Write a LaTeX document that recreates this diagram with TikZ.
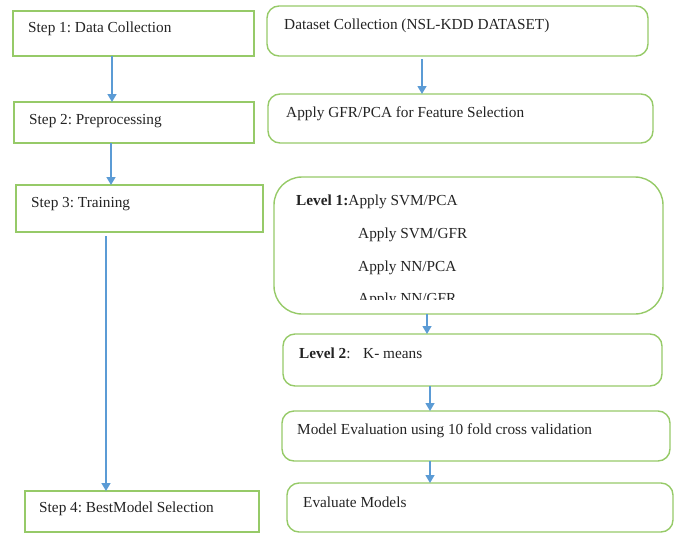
\documentclass[tikz,border=0pt]{standalone}
\usepackage{fontspec}
\setmainfont{Liberation Serif}
\usetikzlibrary{arrows.meta}
\definecolor{boxgreen}{RGB}{150,202,104}
\definecolor{flowblue}{RGB}{91,155,213}
\definecolor{ink}{RGB}{35,35,35}
\frenchspacing
\begin{document}
\begin{tikzpicture}[x=1pt,y=-1pt,
  stepbox/.style={draw=boxgreen, line width=1.4pt, inner sep=0pt, outer sep=0pt},
  roundbox/.style={stepbox, rounded corners=12pt},
  lbl/.style={anchor=base west, inner sep=0pt, text=ink, font=\fontsize{15.3}{18}\selectfont},
  flow/.style={draw=flowblue, line width=1.4pt, -{Triangle[width=9pt,length=8pt]}}]
\useasboundingbox (0,0) rectangle (677,533);

% left column: the four steps
\node[stepbox, minimum width=241pt, minimum height=45pt] (s1) at (133.5,33.5) {};
\node[stepbox, minimum width=240pt, minimum height=41pt] (s2) at (134,122.5) {};
\node[stepbox, minimum width=247pt, minimum height=47pt] (s3) at (139.5,208.5) {};
\node[stepbox, minimum width=234pt, minimum height=41pt] (s4) at (142,511.5) {};

\node[lbl] (t1) at (28,32) {Step 1: Data Collection};
\node[lbl] (t2) at (29,124) {Step 2: Preprocessing};
\node[lbl] (t3) at (31,207) {Step 3: Training};
\node[lbl] (t4) at (39,512) {Step 4: BestModel Selection};

% right column: what each step does
\node[roundbox, minimum width=381pt, minimum height=50pt] (r1) at (457.5,31) {};
\node[roundbox, minimum width=385pt, minimum height=49pt] (r2) at (460.5,118.5) {};
\node[roundbox, rounded corners=28pt, minimum width=389pt, minimum height=137pt] (r3) at (468.5,245.5) {};
\node[roundbox, minimum width=379pt, minimum height=52pt] (r4) at (472.5,360) {};
\node[roundbox, minimum width=388pt, minimum height=50pt] (r5) at (476,436) {};
\node[roundbox, minimum width=386pt, minimum height=49pt] (r6) at (480,507.5) {};

\node[lbl] (t5) at (284,29) {Dataset Collection (NSL-KDD DATASET)};
\node[lbl] (t6) at (286,117) {Apply GFR/PCA for Feature Selection};
\node[lbl] (t7) at (296,205) {\textbf{Level 1:}Apply SVM/PCA};
\node[lbl] (t8) at (358,238) {Apply SVM/GFR};
\node[lbl] (t9) at (358,271) {Apply NN/PCA};
\begin{scope}
  \clip (274,177) rectangle (663,299);
  \node[lbl] (t10) at (358,303) {Apply NN/GFR};
\end{scope}
\node[lbl] (t11) at (299,358) {\textbf{Level 2}:};
\node[lbl] (t12) at (363,358) {K- means};
\node[lbl] (t13) at (297,434) {Model Evaluation using 10 fold cross validation};
\node[lbl] (t14) at (303,507) {Evaluate Models};

% arrow columns
\coordinate (a1) at (112,0);
\coordinate (a2) at (111,0);
\coordinate (a3) at (106,0);
\coordinate (b1) at (422,0);
\coordinate (b2) at (427,0);
\coordinate (b3) at (430,0);

\draw[flow] (s1.south -| a1) -- (s2.north -| a1);
\draw[flow] (s2.south -| a2) -- (s3.north -| a2);
\draw[flow, shorten <=4pt] (s3.south -| a3) -- (s4.north -| a3);
\draw[flow, shorten <=3pt] (r1.south -| b1) -- (r2.north -| b1);
\draw[flow] (r3.south -| b2) -- (r4.north -| b2);
\draw[flow] (r4.south -| b3) -- (r5.north -| b3);
\draw[flow] (r5.south -| b3) -- (r6.north -| b3);
\end{tikzpicture}
\end{document}
